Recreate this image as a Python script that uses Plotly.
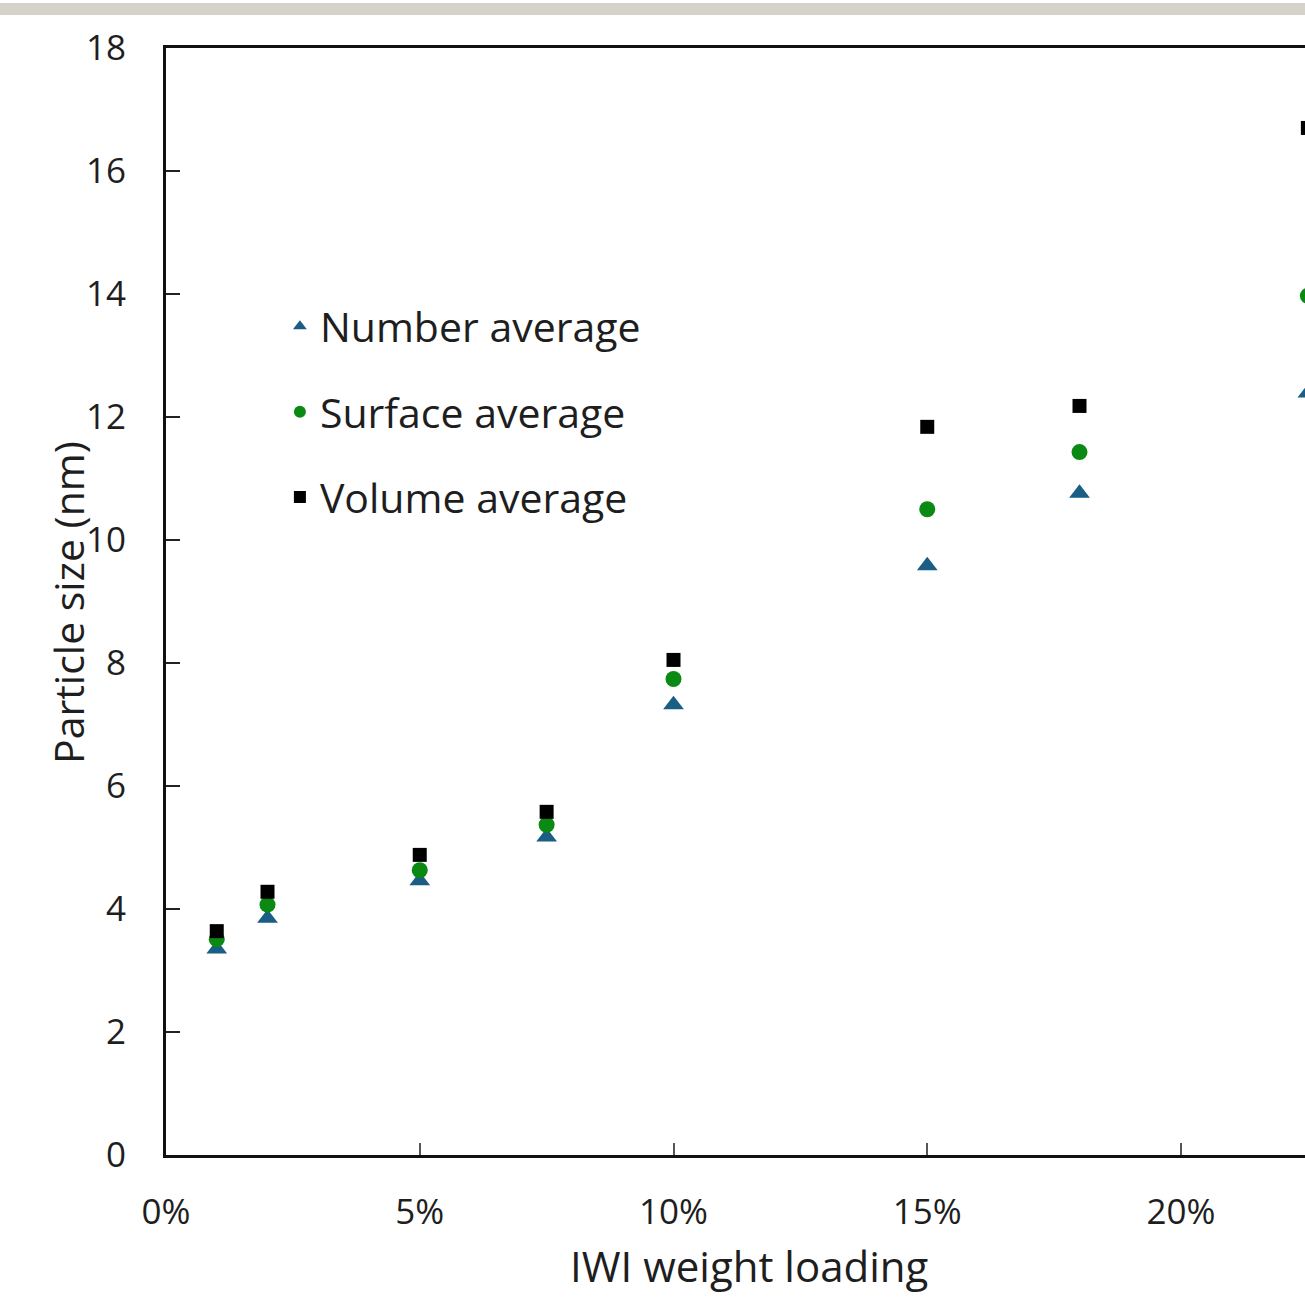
import plotly.graph_objects as go

# Data (weight loading as fraction, particle size in nm)
loading = [0.01, 0.02, 0.05, 0.075, 0.10, 0.15, 0.18, 0.225]
number_avg = [3.35, 3.85, 4.46, 5.17, 7.32, 9.58, 10.76, 12.39]
surface_avg = [3.51, 4.07, 4.63, 5.37, 7.74, 10.50, 11.43, 13.97]
volume_avg = [3.64, 4.28, 4.88, 5.58, 8.05, 11.84, 12.18, 16.70]

series_names = ["Number average", "Surface average", "Volume average"]
x_ticks = [0, 0.05, 0.10, 0.15, 0.20]
y_ticks = list(range(0, 19, 2))

FONT = "Open Sans"
TXT = "#1e1e1e"
W, H = 1305, 1297
ML, MT, MB, MR = 166, 48, 142, 0
PW = W - ML - MR
PH = H - MT - MB

fig = go.Figure()
fig.add_trace(go.Scatter(x=loading, y=number_avg, mode="markers", name=series_names[0],
                         legendgroup="a", cliponaxis=True,
                         marker=dict(symbol="triangle-up", size=18, color="#1a5d85")))
fig.add_trace(go.Scatter(x=loading, y=surface_avg, mode="markers", name=series_names[1],
                         legendgroup="b", cliponaxis=True,
                         marker=dict(symbol="circle", size=16, color="#0a8a12")))
fig.add_trace(go.Scatter(x=loading, y=volume_avg, mode="markers", name=series_names[2],
                         legendgroup="c", cliponaxis=True,
                         marker=dict(symbol="square", size=14, color="#000000")))

fig.update_layout(
    width=W, height=H,
    margin=dict(l=ML, r=MR, t=MT, b=MB, pad=0),
    paper_bgcolor="white", plot_bgcolor="white",
    font=dict(family=FONT, color=TXT, size=35),
    showlegend=True,
    legend=dict(x=0.1, y=0.7785, xanchor="left", yanchor="top",
                bgcolor="rgba(0,0,0,0)", tracegroupgap=29,
                font=dict(family=FONT, size=41, color=TXT),
                itemsizing="constant"),
    shapes=[dict(type="rect", xref="paper", yref="paper",
                 x0=-ML / PW, x1=1.0,
                 ysizemode="pixel", yanchor=1, y0=MT - 15, y1=MT - 3,
                 line=dict(width=0), fillcolor="#d5d2ca", layer="above")],
    annotations=[
        dict(text="Particle size (nm)", textangle=-90,
             xref="paper", yref="paper",
             x=-(ML - 68) / PW, y=(1155 - 603) / PH,
             xanchor="center", yanchor="middle", showarrow=False,
             font=dict(family=FONT, size=41, color=TXT)),
        dict(text="IWI weight loading",
             xref="paper", yref="paper",
             x=(749 - ML) / PW, y=-(1265 - 1155) / PH,
             xanchor="center", yanchor="middle", showarrow=False,
             font=dict(family=FONT, size=42, color=TXT)),
    ],
)

fig.update_xaxes(
    range=[0, PW / 50.75 / 100],
    tickvals=x_ticks, tickformat=".0%",
    showgrid=False, zeroline=False,
    showline=True, linecolor="#111111", linewidth=3, mirror=True,
    ticks="inside", ticklen=12, tickwidth=1.5, tickcolor="#555555",
    ticklabelstandoff=24,
    tickfont=dict(family=FONT, size=35, color=TXT),
)
fig.update_yaxes(
    range=[0, 18], tickvals=y_ticks,
    showgrid=False, zeroline=False,
    showline=True, linecolor="#111111", linewidth=3, mirror=False,
    ticks="inside", ticklen=14, tickwidth=2, tickcolor="#222222",
    ticklabelstandoff=30,
    tickfont=dict(family=FONT, size=35, color=TXT),
)

fig.write_html("out.html", config={"displayModeBar": False},
               post_script="document.body.style.margin='0';")
